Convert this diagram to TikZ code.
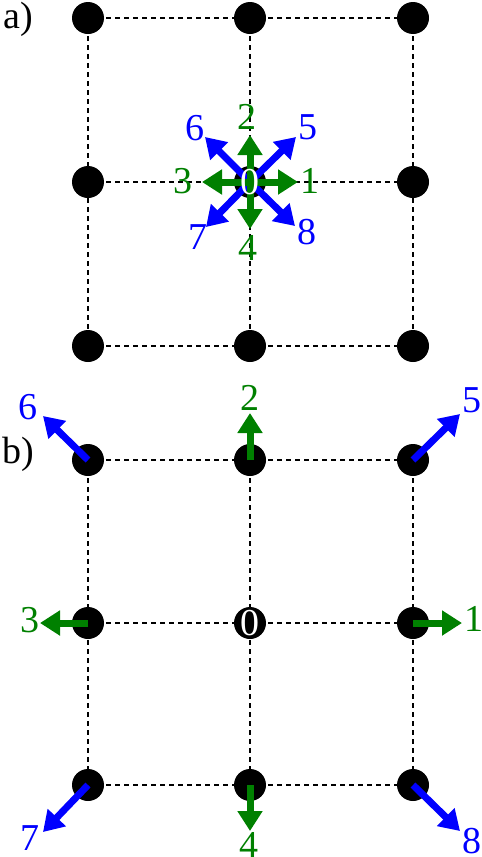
\documentclass[tikz,border=0pt]{standalone}
\usepackage{fontspec}
\setmainfont{Liberation Serif}
\usetikzlibrary{arrows.meta}
\definecolor{mygreen}{RGB}{0,128,0}
\definecolor{myblue}{RGB}{0,0,255}
\tikzset{
  dot/.style={circle,fill=black,minimum size=32pt,inner sep=0pt},
  grid/.style={dashed,dash pattern=on 5pt off 4pt,line width=1.2pt},
  garrow/.style={draw=mygreen,line width=7pt,-{Triangle[width=24pt,length=20pt]}},
  barrow/.style={draw=myblue,line width=7pt,-{Triangle[width=24pt,length=20pt]}},
  lbl/.style={inner sep=0pt,font=\fontsize{38}{38}\selectfont},
  glbl/.style={lbl,text=mygreen},
  blbl/.style={lbl,text=myblue},
  zlbl/.style={lbl,text=white},
}
\begin{document}
\begin{tikzpicture}[x=1pt,y=-1pt]
\useasboundingbox (0,0) rectangle (482,857);
% ---------- part a ----------
\node[lbl] (la) at (18,19) {a)};
\foreach \c/\x in {1/88,2/250,3/413}{
  \foreach \r/\y in {1/18,2/182,3/346}{
    \coordinate (pa\r\c) at (\x,\y);
  }
}
\foreach \r in {1,2,3}{
  \draw[grid] (pa\r1) -- (pa\r2) -- (pa\r3);
  \draw[grid] (pa1\r) -- (pa2\r) -- (pa3\r);
}
\foreach \r in {1,2,3}{\foreach \c in {1,2,3}{\node[dot] (a\r\c) at (pa\r\c) {};}}
\path (a22.center) ++(48,0) coordinate (ta1);
\path (a22.center) ++(0,-47) coordinate (ta2);
\path (a22.center) ++(-48,0) coordinate (ta3);
\path (a22.center) ++(0,47) coordinate (ta4);
\path (a22.center) ++(46,-45) coordinate (ta5);
\path (a22.center) ++(-45,-45) coordinate (ta6);
\path (a22.center) ++(-44,45) coordinate (ta7);
\path (a22.center) ++(45,44) coordinate (ta8);
\foreach \k in {5,6,7,8}{\draw[barrow] (a22.center) -- (ta\k);}
\foreach \k in {1,2,3,4}{\draw[garrow] (a22.center) -- (ta\k);}
\node[glbl] (na1) at (310,181) {1};
\node[glbl] (na2) at (247,117) {2};
\node[glbl] (na3) at (183,181) {3};
\node[glbl] (na4) at (248,248) {4};
\node[blbl] (na5) at (308,127) {5};
\node[blbl] (na6) at (195,128) {6};
\node[blbl] (na7) at (198,237) {7};
\node[blbl] (na8) at (307,232) {8};
\node[zlbl] (na0) at (a22.center) {0};
% ---------- part b ----------
\node[lbl] (lb) at (18,454) {b)};
\foreach \c/\x in {1/88,2/250,3/413}{
  \foreach \r/\y in {1/460,2/623,3/785}{
    \coordinate (pb\r\c) at (\x,\y);
  }
}
\foreach \r in {1,2,3}{
  \draw[grid] (pb\r1) -- (pb\r2) -- (pb\r3);
  \draw[grid] (pb1\r) -- (pb2\r) -- (pb3\r);
}
\foreach \r in {1,2,3}{\foreach \c in {1,2,3}{\node[dot] (b\r\c) at (pb\r\c) {};}}
\path (b23.center) ++(49,0) coordinate (tb1);
\path (b12.center) ++(0,-47) coordinate (tb2);
\path (b21.center) ++(-48,0) coordinate (tb3);
\path (b32.center) ++(0,46) coordinate (tb4);
\path (b13.center) ++(47,-46) coordinate (tb5);
\path (b11.center) ++(-45,-44) coordinate (tb6);
\path (b31.center) ++(-45,47) coordinate (tb7);
\path (b33.center) ++(47,46) coordinate (tb8);
\draw[garrow] (b23.center) -- (tb1);
\draw[garrow] (b12.center) -- (tb2);
\draw[garrow] (b21.center) -- (tb3);
\draw[garrow] (b32.center) -- (tb4);
\draw[barrow] (b13.center) -- (tb5);
\draw[barrow] (b11.center) -- (tb6);
\draw[barrow] (b31.center) -- (tb7);
\draw[barrow] (b33.center) -- (tb8);
\node[glbl] (nb1) at (474,619) {1};
\node[glbl] (nb2) at (250,398) {2};
\node[glbl] (nb3) at (30,620) {3};
\node[glbl] (nb4) at (249,845) {4};
\node[blbl] (nb5) at (472,400) {5};
\node[blbl] (nb6) at (28,407) {6};
\node[blbl] (nb7) at (30,838) {7};
\node[blbl] (nb8) at (472,841) {8};
\node[zlbl] (nb0) at (b22.center) {0};
\end{tikzpicture}
\end{document}
